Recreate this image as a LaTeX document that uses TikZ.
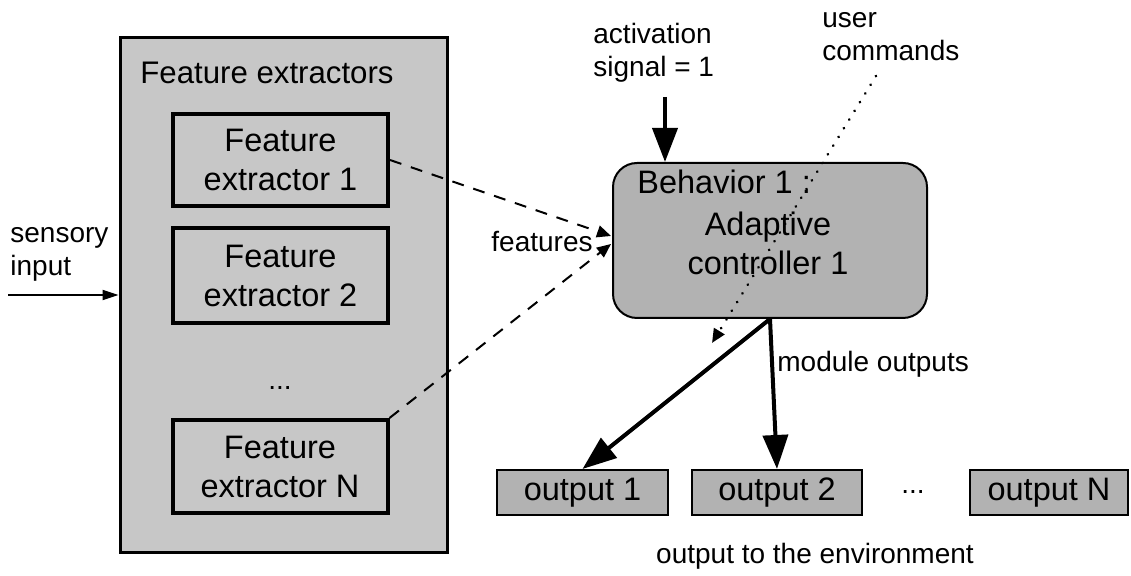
\documentclass[tikz,border=0pt]{standalone}
\usepackage{fontspec}
\setmainfont{Liberation Sans}
\usetikzlibrary{arrows.meta}
\begin{document}
\begin{tikzpicture}[x=0.5pt,y=-0.5pt,
  lbl/.style={inner sep=0pt, font=\fontsize{14}{16.5}\selectfont, align=left},
  boxtxt/.style={inner sep=0pt, font=\fontsize{16.25}{19.5}\selectfont, align=center},
  febox/.style={draw, line width=2pt, fill=black!22, minimum width=107.5pt, inner sep=0pt, boxtxt},
  outbox/.style={draw, line width=1pt, fill=black!30, minimum width=85pt, minimum height=22.5pt, inner sep=0pt, boxtxt},
  thickarrow/.style={line width=2pt, -{Triangle[length=17pt,width=12.5pt]}},
  featarrow/.style={line width=1pt, dash pattern=on 6pt off 5pt, -{Triangle[length=7pt,width=6pt]}},
  dotarrow/.style={line width=1.4pt, dash pattern=on 0.1pt off 5pt, line cap=round, -{Triangle[length=7pt,width=6pt]}},
  thinarrow/.style={line width=1pt, -{Triangle[length=8pt,width=5pt]}}
]
\useasboundingbox (0,0) rectangle (1131,576);

% feature extractors block
\node[draw, line width=1.5pt, fill=black!22, minimum width=163.5pt, minimum height=257.5pt] (outer) at (283.5,295.5) {};
\node[lbl, anchor=west, font=\fontsize{15.6}{18}\selectfont] (fetitle) at (140,73) {Feature extractors};
\node[febox, minimum height=46pt] (fe1) at (280.5,160) {Feature\\extractor 1};
\node[febox, minimum height=47.5pt] (fe2) at (280.5,275.5) {Feature\\extractor 2};
\node[lbl] (fedots) at (280,388) {...};
\node[febox, minimum height=46.5pt] (fen) at (280,466.5) {Feature\\extractor N};

% sensory input
\node[lbl, anchor=west] (sens) at (10,254) {sensory\\input};
\coordinate (sensin) at (8,295);
\draw[thinarrow] (sensin) -- (outer.west |- sensin);

% behavior
\node[draw, line width=1pt, fill=black!30, rounded corners=12pt, minimum width=157pt, minimum height=77.5pt] (beh) at (770,240.5) {};
\node[boxtxt, anchor=west] (behname) at (637,182) {Behavior 1 :};
\node[boxtxt] (adapt) at (768,243) {Adaptive\\controller 1};

% activation
\node[lbl, anchor=west] (act) at (593,53) {activation\\signal = 1};
\coordinate (actstart) at (665,97);
\draw[thickarrow] (actstart) -- (beh.north -| actstart);

% user commands
\node[lbl, anchor=west] (uc) at (822,37) {user\\commands};
\coordinate (ucstart) at (876,76);
\coordinate (ucend) at (712,343);
\draw[dotarrow] (ucstart) -- (ucend);

% features
\coordinate (ft1) at (611,236);
\coordinate (ft2) at (611,244);
\draw[featarrow] (fe1.east) -- (ft1);
\draw[featarrow] (fen.north east) -- (ft2);
\node[lbl, anchor=east] (feat) at (593,242) {features};

% outputs
\node[outbox, minimum width=85.5pt] (o1) at (582.5,492.5) {output 1};
\node[outbox] (o2) at (777,492.5) {output 2};
\node[lbl] (odots) at (913,492) {...};
\node[outbox, minimum width=79pt] (on) at (1049,492.5) {output N};

\draw[thickarrow] (beh.south) -- (o1.north);
\draw[thickarrow] (beh.south) -- (o2.north);

\node[lbl, anchor=west] (modout) at (777,364) {module outputs};
\node[lbl] (env) at (815,556) {output to the environment};
\end{tikzpicture}
\end{document}
